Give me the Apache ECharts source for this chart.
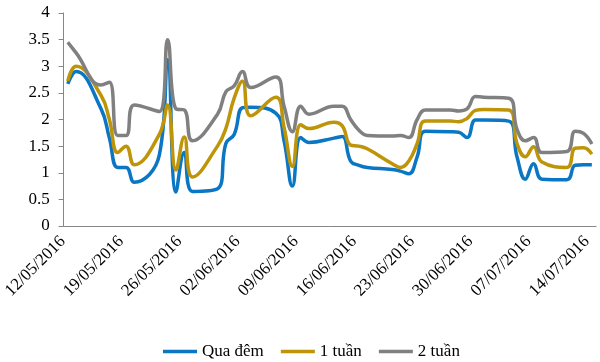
<!DOCTYPE html>
<html>
<head>
<meta charset="utf-8">
<script src="https://cdn.jsdelivr.net/npm/echarts@6/dist/echarts.min.js"></script>
<style>html,body{margin:0;padding:0;background:#fff;}#c{width:600px;height:362px;}</style>
</head>
<body>
<div id="c"></div>
<script>
// Calendar days 12/05/2016 .. 14/07/2016 (weekends carry no quote -> null)
const categories = [
 '12/05/2016','13/05/2016','14/05/2016','15/05/2016','16/05/2016','17/05/2016','18/05/2016',
 '19/05/2016','20/05/2016','21/05/2016','22/05/2016','23/05/2016','24/05/2016','25/05/2016',
 '26/05/2016','27/05/2016','28/05/2016','29/05/2016','30/05/2016','31/05/2016','01/06/2016',
 '02/06/2016','03/06/2016','04/06/2016','05/06/2016','06/06/2016','07/06/2016','08/06/2016',
 '09/06/2016','10/06/2016','11/06/2016','12/06/2016','13/06/2016','14/06/2016','15/06/2016',
 '16/06/2016','17/06/2016','18/06/2016','19/06/2016','20/06/2016','21/06/2016','22/06/2016',
 '23/06/2016','24/06/2016','25/06/2016','26/06/2016','27/06/2016','28/06/2016','29/06/2016',
 '30/06/2016','01/07/2016','02/07/2016','03/07/2016','04/07/2016','05/07/2016','06/07/2016',
 '07/07/2016','08/07/2016','09/07/2016','10/07/2016','11/07/2016','12/07/2016','13/07/2016',
 '14/07/2016'
];
const quaDem = [
 2.67, 2.90, null, null, 2.20, 1.65, 1.10,
 1.10, 0.82, null, null, 1.33, 3.12, 0.64,
 1.38, 0.65, null, null, 0.70, 1.55, 1.72,
 2.22, 2.23, null, null, 2.12, 1.60, 0.75,
 1.66, 1.57, null, null, 1.65, 1.68, 1.22,
 1.14, 1.10, null, null, 1.06, 1.03, 0.98,
 1.30, 1.78, null, null, 1.77, 1.76, 1.66,
 1.99, 1.99, null, null, 1.97, 1.30, 0.88,
 1.17, 0.88, null, null, 0.87, 1.14, 1.15,
 1.15
];
const motTuan = [
 2.72, 3.00, null, null, 2.45, 2.00, 1.38,
 1.50, 1.15, null, null, 1.72, 2.27, 1.05,
 1.67, 0.92, null, null, 1.50, 1.83, 2.40,
 2.72, 2.07, null, null, 2.42, 1.85, 1.12,
 1.90, 1.83, null, null, 1.95, 1.88, 1.52,
 1.50, 1.45, null, null, 1.17, 1.10, 1.22,
 1.55, 1.97, null, null, 1.97, 1.96, 2.02,
 2.17, 2.19, null, null, 2.18, 1.55, 1.30,
 1.49, 1.20, null, null, 1.10, 1.46, 1.47,
 1.35
];
const haiTuan = [
 3.45, 3.25, null, null, 2.65, 2.70, 1.70,
 1.70, 2.27, null, null, 2.15, 3.50, 2.20,
 2.18, 1.60, null, null, 2.10, 2.52, 2.63,
 2.90, 2.60, null, null, 2.80, 2.25, 1.77,
 2.25, 2.10, null, null, 2.25, 2.25, 2.00,
 1.80, 1.70, null, null, 1.69, 1.70, 1.66,
 2.00, 2.18, null, null, 2.18, 2.16, 2.20,
 2.43, 2.42, null, null, 2.40, 1.82, 1.60,
 1.66, 1.38, null, null, 1.40, 1.78, 1.74,
 1.54
];
const seriesNames = ['Qua đêm', '1 tuần', '2 tuần'];
const colors = ['#0B76C3', '#BE9409', '#808080'];

const font = "'Liberation Serif','Times New Roman',serif";
const chart = echarts.init(document.getElementById('c'), null, {renderer: 'canvas'});
const mk = (name, data, color) => ({
  name: name, type: 'line', data: data, smooth: 0.45, connectNulls: true,
  symbol: 'none', lineStyle: {width: 3.5, color: color}, itemStyle: {color: color}
});
chart.setOption({
  animation: false,
  backgroundColor: '#fff',
  grid: {left: 57, right: 4, top: 13, bottom: 136},
  xAxis: {
    type: 'category', data: categories, boundaryGap: true,
    axisLine: {lineStyle: {color: '#868686', width: 1}},
    axisTick: {interval: 6, length: 5, lineStyle: {color: '#868686'}},
    axisLabel: {interval: 6, rotate: 45, margin: 8, padding: [0, 7, 0, 0],
      color: '#000', fontFamily: font, fontSize: 17}
  },
  yAxis: {
    type: 'value', min: 0, max: 4, interval: 0.5,
    axisLine: {show: true, lineStyle: {color: '#868686', width: 1}},
    axisTick: {show: true, length: 5, lineStyle: {color: '#868686'}},
    splitLine: {show: false},
    axisLabel: {margin: 14, color: '#000', fontFamily: font, fontSize: 17}
  },
  legend: {
    data: seriesNames, top: 338, left: 158, icon: 'rect',
    itemWidth: 34, itemHeight: 3.5, itemGap: 17,
    textStyle: {color: '#000', fontFamily: font, fontSize: 17}
  },
  series: [
    mk(seriesNames[0], quaDem, colors[0]),
    mk(seriesNames[1], motTuan, colors[1]),
    mk(seriesNames[2], haiTuan, colors[2])
  ]
});
</script>
</body>
</html>
